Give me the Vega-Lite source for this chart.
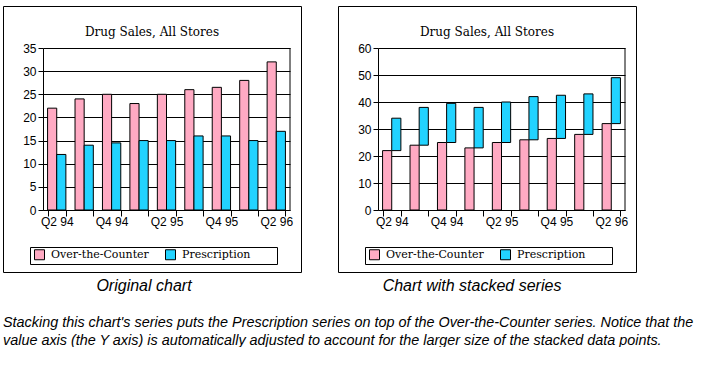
{
  "$schema": "https://vega.github.io/schema/vega-lite/v6.json",
  "background": "white",
  "padding": {"left": 2, "top": 5, "right": 0, "bottom": 0},
  "datasets": {
    "sales": [
      {"quarter": "Q2 94", "series": "Over-the-Counter", "value": 22},
      {"quarter": "Q2 94", "series": "Prescription", "value": 12},
      {"quarter": "Q3 94", "series": "Over-the-Counter", "value": 24},
      {"quarter": "Q3 94", "series": "Prescription", "value": 14},
      {"quarter": "Q4 94", "series": "Over-the-Counter", "value": 25},
      {"quarter": "Q4 94", "series": "Prescription", "value": 14.5},
      {"quarter": "Q1 95", "series": "Over-the-Counter", "value": 23},
      {"quarter": "Q1 95", "series": "Prescription", "value": 15},
      {"quarter": "Q2 95", "series": "Over-the-Counter", "value": 25},
      {"quarter": "Q2 95", "series": "Prescription", "value": 15},
      {"quarter": "Q3 95", "series": "Over-the-Counter", "value": 26},
      {"quarter": "Q3 95", "series": "Prescription", "value": 16},
      {"quarter": "Q4 95", "series": "Over-the-Counter", "value": 26.5},
      {"quarter": "Q4 95", "series": "Prescription", "value": 16},
      {"quarter": "Q1 96", "series": "Over-the-Counter", "value": 28},
      {"quarter": "Q1 96", "series": "Prescription", "value": 15},
      {"quarter": "Q2 96", "series": "Over-the-Counter", "value": 32},
      {"quarter": "Q2 96", "series": "Prescription", "value": 17}
    ]
  },
  "title": {
    "text": [
      "Stacking this chart's series puts the Prescription series on top of the Over-the-Counter series. Notice that the",
      "value axis (the Y axis) is automatically adjusted to account for the larger size of the stacked data points."
    ],
    "orient": "bottom",
    "anchor": "start",
    "frame": "group",
    "font": "Liberation Sans Narrow, Liberation Sans",
    "fontStyle": "italic",
    "fontWeight": "normal",
    "fontSize": 14.4,
    "lineHeight": 18,
    "offset": 22,
    "color": "black"
  },
  "spacing": 35,
  "hconcat": [
    {
      "title": {"text": "Original chart", "orient": "bottom", "anchor": "middle", "dx": -8, "offset": 5, "font": "Liberation Sans Narrow, Liberation Sans", "fontStyle": "italic", "fontWeight": "normal", "fontSize": 16, "color": "black"},
      "vconcat": [
        {
          "width": 298,
          "height": 266,
          "title": {"text": "Drug Sales, All Stores", "offset": -33, "anchor": "middle", "font": "DejaVu Serif", "fontSize": 12, "fontWeight": "normal", "color": "black"},
          "data": {"name": "sales"},
          "layer": [
            {
              "mark": {"type": "bar", "stroke": "black", "strokeWidth": 1},
              "encoding": {
                "x": {
                  "field": "quarter", "type": "nominal", "sort": null,
                  "scale": {"range": [40, 287], "paddingInner": 0.333, "paddingOuter": 0.1667},
                  "axis": {"title": null, "offset": -62, "tickBand": "extent", "labelAngle": 0, "labelOverlap": false, "labelPadding": 0, "tickSize": 6,
                    "labelExpr": "indexof(['Q2 94','Q4 94','Q2 95','Q4 95','Q2 96'], datum.value) >= 0 ? datum.label : ''"}
                },
                "xOffset": {"field": "series", "type": "nominal", "sort": null},
                "y": {
                  "field": "value", "type": "quantitative",
                  "scale": {"domain": [0, 35], "range": [204, 42], "nice": false, "zero": true},
                  "axis": {"title": null, "offset": -40, "values": [0, 5, 10, 15, 20, 25, 30, 35], "labelOverlap": false, "grid": true, "tickSize": 5, "labelPadding": 2}
                },
                "color": {
                  "field": "series", "type": "nominal",
                  "scale": {"domain": ["Over-the-Counter", "Prescription"], "range": ["#FFAAC3", "#22D3FF"]},
                  "legend": {"orient": "none", "legendX": 27, "legendY": 241,
                    "labelExpr": "datum.label == 'Prescription' ? 'Prescription\u2800\u2800\u2800' : datum.label"}
                }
              }
            },
            {
              "data": {"values": [{}]},
              "mark": {"type": "rule", "color": "black", "strokeWidth": 1},
              "encoding": {
                "x": {"datum": "Q2 96", "bandPosition": 1.25,
                  "axis": {"title": null, "offset": -62, "tickBand": "extent", "labelAngle": 0, "labelOverlap": false, "labelPadding": 0, "tickSize": 6,
                    "labelExpr": "indexof(['Q2 94','Q4 94','Q2 95','Q4 95','Q2 96'], datum.value) >= 0 ? datum.label : ''"}},
                "y": {"datum": 0,
                  "axis": {"title": null, "offset": -40, "values": [0, 5, 10, 15, 20, 25, 30, 35], "labelOverlap": false, "grid": true, "tickSize": 5, "labelPadding": 2}},
                "y2": {"datum": 35}
              }
            }
          ]
        }
      ]
    },
    {
      "title": {"text": "Chart with stacked series", "orient": "bottom", "anchor": "middle", "dx": -15, "offset": 5, "font": "Liberation Sans Narrow, Liberation Sans", "fontStyle": "italic", "fontWeight": "normal", "fontSize": 16, "color": "black"},
      "vconcat": [
        {
          "width": 298,
          "height": 266,
          "title": {"text": "Drug Sales, All Stores", "offset": -33, "anchor": "middle", "font": "DejaVu Serif", "fontSize": 12, "fontWeight": "normal", "color": "black"},
          "data": {"name": "sales"},
          "layer": [
            {
              "transform": [
                {"stack": "value", "groupby": ["quarter"], "sort": [{"field": "series", "order": "ascending"}], "as": ["y0", "y1"]}
              ],
              "mark": {"type": "bar", "stroke": "black", "strokeWidth": 1},
              "encoding": {
                "x": {
                  "field": "quarter", "type": "nominal", "sort": null,
                  "scale": {"range": [40, 287], "paddingInner": 0.333, "paddingOuter": 0.1667},
                  "axis": {"title": null, "offset": -62, "tickBand": "extent", "labelAngle": 0, "labelOverlap": false, "labelPadding": 0, "tickSize": 6,
                    "labelExpr": "indexof(['Q2 94','Q4 94','Q2 95','Q4 95','Q2 96'], datum.value) >= 0 ? datum.label : ''"}
                },
                "xOffset": {"field": "series", "type": "nominal", "sort": null},
                "y": {
                  "field": "y0", "type": "quantitative",
                  "scale": {"domain": [0, 60], "range": [204, 42], "nice": false, "zero": true},
                  "axis": {"title": null, "offset": -40, "values": [0, 10, 20, 30, 40, 50, 60], "labelOverlap": false, "grid": true, "tickSize": 5, "labelPadding": 2}
                },
                "y2": {"field": "y1"},
                "color": {
                  "field": "series", "type": "nominal",
                  "scale": {"domain": ["Over-the-Counter", "Prescription"], "range": ["#FFAAC3", "#22D3FF"]},
                  "legend": {"orient": "none", "legendX": 27, "legendY": 241,
                    "labelExpr": "datum.label == 'Prescription' ? 'Prescription\u2800\u2800\u2800' : datum.label"}
                }
              }
            },
            {
              "data": {"values": [{}]},
              "mark": {"type": "rule", "color": "black", "strokeWidth": 1},
              "encoding": {
                "x": {"datum": "Q2 96", "bandPosition": 1.25,
                  "axis": {"title": null, "offset": -62, "tickBand": "extent", "labelAngle": 0, "labelOverlap": false, "labelPadding": 0, "tickSize": 6,
                    "labelExpr": "indexof(['Q2 94','Q4 94','Q2 95','Q4 95','Q2 96'], datum.value) >= 0 ? datum.label : ''"}},
                "y": {"datum": 0,
                  "axis": {"title": null, "offset": -40, "values": [0, 10, 20, 30, 40, 50, 60], "labelOverlap": false, "grid": true, "tickSize": 5, "labelPadding": 2}},
                "y2": {"datum": 60}
              }
            }
          ]
        }
      ]
    }
  ],
  "resolve": {"scale": {"color": "independent", "x": "independent", "y": "independent"}},
  "config": {
    "view": {"stroke": "black", "strokeWidth": 1},
    "axis": {
      "domainColor": "black", "domainWidth": 1, "tickColor": "black", "tickWidth": 1,
      "gridColor": "black", "gridOpacity": 1, "gridWidth": 1,
      "labelColor": "black", "labelFont": "Liberation Sans", "labelFontSize": 12
    },
    "legend": {
      "title": null, "direction": "horizontal", "columns": 2, "gridAlign": "each", "columnPadding": 14,
      "padding": 2, "strokeColor": "black", "strokeWidth": 1, "fillColor": "white",
      "symbolType": "square", "symbolSize": 100, "symbolStrokeColor": "black", "symbolStrokeWidth": 1, "symbolOpacity": 1,
      "symbolOffset": 2,
      "labelFont": "DejaVu Serif", "labelFontSize": 11, "labelColor": "black", "labelOffset": 6
    },
    "bar": {"opacity": 1}
  }
}
